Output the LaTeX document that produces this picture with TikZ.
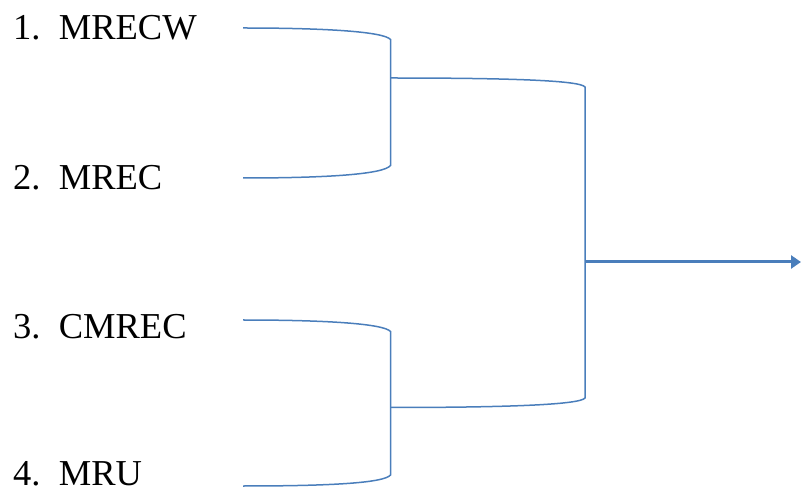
\documentclass[tikz,border=0pt]{standalone}
\usepackage{fontspec}
\setmainfont{Liberation Serif}
\usetikzlibrary{arrows.meta}
\definecolor{linkblue}{RGB}{74,126,187}
\begin{document}
\begin{tikzpicture}[x=1pt,y=-1pt,
  lbl/.style={anchor=base west,inner sep=0pt,font=\fontsize{36.5}{40}\selectfont},
  link/.style={draw=linkblue,line width=1.5pt},
  outarrow/.style={draw=linkblue,line width=3pt,-{Triangle[length=10pt,width=13pt]}}]
\useasboundingbox (0,0) rectangle (801,494);
\node[lbl] (l1) at (13,39.5) {1.\hspace{0.5em}MRECW};
\node[lbl] (l2) at (13,189.5) {2.\hspace{0.5em}MREC};
\node[lbl] (l3) at (13,339) {3.\hspace{0.5em}CMREC};
\node[lbl] (l4) at (13,485) {4.\hspace{0.5em}MRU};
% bracket ends
\coordinate (a1) at (243,28);
\coordinate (a2) at (243,178);
\coordinate (a3) at (243,320);
\coordinate (a4) at (243,486);
\coordinate (b1t) at (390.5,39.5);
\coordinate (b1b) at (390.5,165.5);
\coordinate (m1) at (390.5,78);
\coordinate (b2t) at (390.5,331.5);
\coordinate (b2b) at (390.5,475);
\coordinate (m2) at (390.5,407.5);
\coordinate (ct) at (585,87);
\coordinate (cb) at (585,398);
\coordinate (cm) at (585,262);
\coordinate (out) at (801,262);
% first bracket
\draw[link] (a1) .. controls (330,28) and (384,32) .. (b1t) -- (b1b)
  .. controls (384,174) and (330,178) .. (a2);
% second bracket
\draw[link] (a3) .. controls (330,320) and (384,324) .. (b2t) -- (b2b)
  .. controls (384,483) and (330,486) .. (a4);
% outer bracket
\draw[link] (m1) .. controls (500,78) and (580,80) .. (ct) -- (cb)
  .. controls (580,405) and (500,407.5) .. (m2);
\draw[outarrow] (cm) -- (out);
\end{tikzpicture}
\end{document}
